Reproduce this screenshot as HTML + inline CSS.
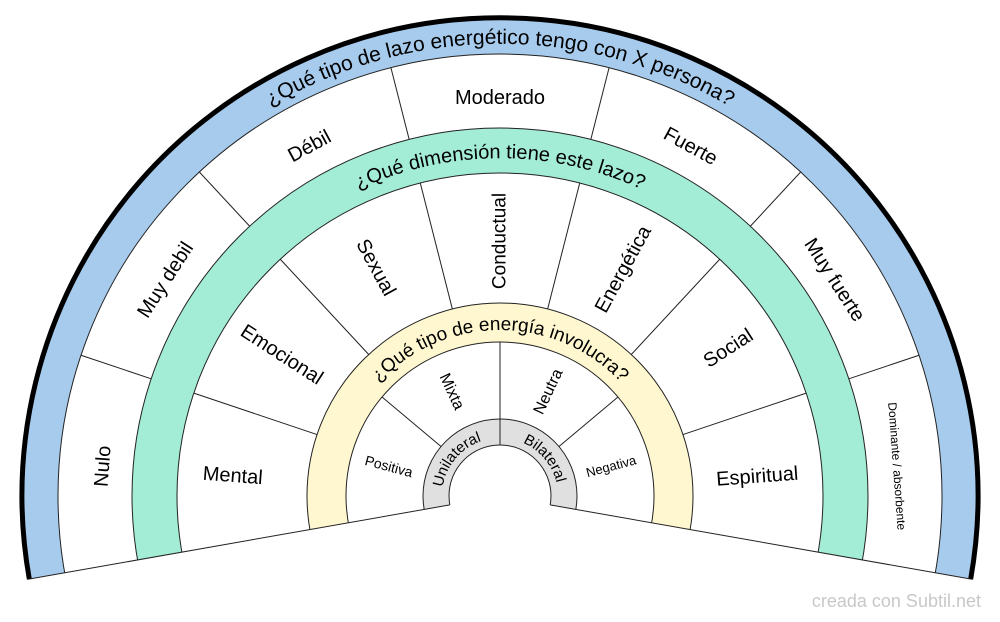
<!DOCTYPE html>
<html><head><meta charset="utf-8"><style>
html,body{margin:0;padding:0;background:#fff;width:1000px;height:622px;overflow:hidden;}
svg{display:block;font-family:"Liberation Sans",sans-serif;}
</style></head><body>
<svg width="1000" height="622" viewBox="0 0 1000 622" xmlns="http://www.w3.org/2000/svg">
<defs>
<path id="pb" d="M54.9 574.5 A452 452 0 1 1 945.1 574.5"/>
<path id="pg" d="M167.1 554.7 A338 338 0 1 1 832.9 554.7"/>
<path id="py" d="M336.5 524.8 A166 166 0 1 1 663.5 524.8"/>
<path id="pu" d="M442.9 506.1 A58 58 0 0 1 500 438"/>
<path id="pbl" d="M500 438 A58 58 0 0 1 557.1 506.1"/>
</defs>
<g stroke="#222" stroke-width="1">
<circle cx="500" cy="496" r="478" fill="#a7cbed"/>
<circle cx="500" cy="496" r="442" fill="#fff"/>
<circle cx="500" cy="496" r="368" fill="#a3ecd5"/>
<circle cx="500" cy="496" r="323" fill="#fff"/>
<circle cx="500" cy="496" r="193" fill="#fef7cf"/>
<circle cx="500" cy="496" r="154" fill="#fff"/>
<circle cx="500" cy="496" r="77" fill="#e0e0e0"/>
<circle cx="500" cy="496" r="51" fill="#fff"/>
</g>
<polygon points="500,496 1091,600 1091,700 -91,700 -91,600" fill="#fff"/>
<path d="M29.3 579 A478 478 0 1 1 970.7 579" fill="none" stroke="#000" stroke-width="5"/>
<g stroke="#222" stroke-width="1">
<line x1="449.8" y1="504.9" x2="27.3" y2="579.4"/>
<line x1="550.2" y1="504.9" x2="972.7" y2="579.4"/>
</g>
<g stroke="#222" stroke-width="1">
<g transform="rotate(-71.43 500 496)"><line x1="500" y1="128" x2="500" y2="54"/><line x1="500" y1="303" x2="500" y2="173"/></g>
<g transform="rotate(-42.86 500 496)"><line x1="500" y1="128" x2="500" y2="54"/><line x1="500" y1="303" x2="500" y2="173"/></g>
<g transform="rotate(-14.29 500 496)"><line x1="500" y1="128" x2="500" y2="54"/><line x1="500" y1="303" x2="500" y2="173"/></g>
<g transform="rotate(14.29 500 496)"><line x1="500" y1="128" x2="500" y2="54"/><line x1="500" y1="303" x2="500" y2="173"/></g>
<g transform="rotate(42.86 500 496)"><line x1="500" y1="128" x2="500" y2="54"/><line x1="500" y1="303" x2="500" y2="173"/></g>
<g transform="rotate(71.43 500 496)"><line x1="500" y1="128" x2="500" y2="54"/><line x1="500" y1="303" x2="500" y2="173"/></g>
<line x1="500" y1="419" x2="500" y2="342" transform="rotate(-50 500 496)"/>
<line x1="500" y1="419" x2="500" y2="342"/>
<line x1="500" y1="419" x2="500" y2="342" transform="rotate(50 500 496)"/>
<line x1="500" y1="445" x2="500" y2="419"/>
</g>
<g font-size="21" fill="#000" text-anchor="middle">
<text><textPath href="#pb" startOffset="50%">¿Qué tipo de lazo energético tengo con X persona?</textPath></text>
<text font-size="20"><textPath href="#pg" startOffset="50%">¿Qué dimensión tiene este lazo?</textPath></text>
<text font-size="19"><textPath href="#py" startOffset="50%">¿Qué tipo de energía involucra?</textPath></text>
<text font-size="15"><textPath href="#pu" startOffset="50%">Unilateral</textPath></text>
<text font-size="15"><textPath href="#pbl" startOffset="50%">Bilateral</textPath></text>
</g>
<g font-size="20" fill="#000" text-anchor="middle" dominant-baseline="central">
<text x="500" y="98" transform="rotate(-85.71 500 496)">Nulo</text>
<text x="500" y="98" transform="rotate(-57.14 500 496)">Muy debil</text>
<text x="500" y="98" transform="rotate(-28.57 500 496)">Débil</text>
<text x="500" y="98">Moderado</text>
<text x="500" y="98" transform="rotate(28.57 500 496)">Fuerte</text>
<text x="500" y="98" transform="rotate(57.14 500 496)">Muy fuerte</text>
<text x="500" y="98" font-size="12" transform="rotate(85.71 500 496)">Dominante / absorbente</text>
<text x="232" y="496" transform="rotate(4.29 500 496)">Mental</text>
<text x="240" y="496" transform="rotate(32.86 500 496)">Emocional</text>
<text x="240" y="496" transform="rotate(61.43 500 496)">Sexual</text>
<text x="755" y="496" font-size="19" transform="rotate(-90 500 496)">Conductual</text>
<text x="758" y="496" transform="rotate(-61.43 500 496)">Energética</text>
<text x="772" y="496" transform="rotate(-32.86 500 496)">Social</text>
<text x="758" y="496" transform="rotate(-4.29 500 496)">Espiritual</text>
<text x="385" y="496" font-size="14" transform="rotate(15 500 496)">Positiva</text>
<text x="385" y="496" font-size="16" transform="rotate(65 500 496)">Mixta</text>
<text x="615" y="496" font-size="16" transform="rotate(-65 500 496)">Neutra</text>
<text x="615" y="496" font-size="13" transform="rotate(-15 500 496)">Negativa</text>
</g>
<text x="981" y="607" font-size="18" fill="#c8c8c8" text-anchor="end">creada con Subtil.net</text>
</svg>
</body></html>
